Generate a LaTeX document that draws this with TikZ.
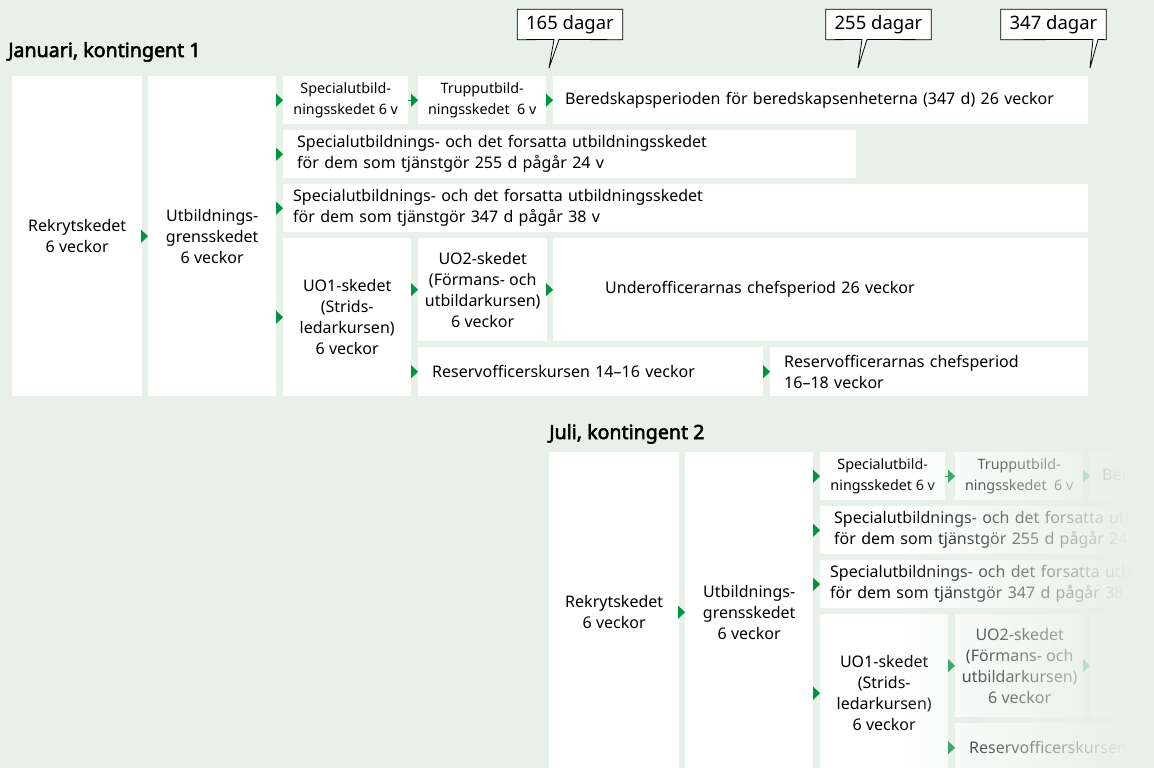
\documentclass[tikz,border=0pt]{standalone}
\usepackage{fontspec}
\setmainfont{Noto Sans}
\newfontfamily\titlefont{Noto Sans}[FakeBold=2.6]
\usetikzlibrary{arrows.meta,fadings}
\definecolor{bg}{HTML}{E7F1EA}
\definecolor{grn}{HTML}{00943F}
\tikzfading[name=fadeR, left color=transparent!100, right color=transparent!0]
\pgfdeclarelayer{bgl}
\pgfsetlayers{bgl,main}
\tikzset{
  box/.style={fill=white, draw=none, anchor=north west, inner sep=0pt,
    font=\fontsize{16}{21}\selectfont, align=center},
  sbox/.style={box, font=\fontsize{14.3}{21}\selectfont},
  lbox/.style={box, align=left},
  flow/.style={draw=grn, fill=grn, line width=0.1pt, -{Triangle[length=7pt,width=13pt]}},
  ctext/.style={font=\fontsize{18.5}{20}\selectfont, minimum width=105pt, minimum height=30pt, inner sep=0pt},
  cshape/.style={draw=black, fill=white, line width=0.8pt, line join=miter},
  title/.style={anchor=base west, inner sep=0pt, font=\titlefont\fontsize{19.6}{20}\selectfont}
}
\newcommand\kontdraw{%
  \node[box, minimum width=130pt, minimum height=320pt] (rek) at (12,76) {Rekrytskedet\\6 veckor};
  \node[box, minimum width=128pt, minimum height=320pt] (utb) at (148,76) {Utbildnings-\\grensskedet\\6 veckor};
  \node[sbox, minimum width=125pt, minimum height=48pt] (spec) at (283,76) {Specialutbild-\\ningsskedet 6 v};
  \node[sbox, minimum width=128pt, minimum height=48pt] (trupp) at (418,76) {Trupputbild-\\ningsskedet\ \ 6 v};
  \node[lbox, minimum width=535pt, minimum height=48pt, inner xsep=12pt, text width=511pt] (bered) at (553,76) {Beredskapsperioden för beredskapsenheterna (347 d) 26 veckor};
  \node[lbox, minimum width=573pt, minimum height=48pt, inner xsep=14pt, text width=545pt] (r255) at (283,130) {Specialutbildnings- och det forsatta utbildningsskedet\\för dem som tjänstgör 255 d pågår 24 v};
  \node[lbox, minimum width=805pt, minimum height=48pt, inner xsep=10pt, text width=785pt] (r347) at (283,184) {Specialutbildnings- och det forsatta utbildningsskedet\\för dem som tjänstgör 347 d pågår 38 v};
  \node[box, minimum width=128pt, minimum height=158pt] (uo1) at (283,238) {UO1-skedet\\(Strids-\\ledarkursen)\\6 veckor};
  \node[box, minimum width=129pt, minimum height=103pt] (uo2) at (418,238) {UO2-skedet\\(Förmans- och\\utbildarkursen)\\6 veckor};
  \node[lbox, minimum width=535pt, minimum height=103pt, inner xsep=52pt, text width=431pt] (uoc) at (553,238) {Underofficerarnas chefsperiod 26 veckor};
  \node[lbox, minimum width=345pt, minimum height=49pt, inner xsep=14pt, text width=317pt] (rok) at (418,347) {Reservofficerskursen 14–16 veckor};
  \node[lbox, minimum width=318pt, minimum height=49pt, inner xsep=14pt, text width=290pt] (roc) at (770,347) {Reservofficerarnas chefsperiod\\16–18 veckor};
  \draw[flow] (rek.east |- utb.west) -- (utb.west);
  \draw[flow] (utb.east |- spec.west) -- (spec.west);
  \draw[flow] (utb.east |- r255.west) -- (r255.west);
  \draw[flow] (utb.east |- r347.west) -- (r347.west);
  \draw[flow] (utb.east |- uo1.west) -- (uo1.west);
  \draw[flow] (spec.east |- trupp.west) -- (trupp.west);
  \draw[flow] (trupp.east |- bered.west) -- (bered.west);
  \draw[flow] (uo1.east |- uo2.west) -- (uo2.west);
  \draw[flow] (uo1.east |- rok.west) -- (rok.west);
  \draw[flow] (uo2.east |- uoc.west) -- (uoc.west);
  \draw[flow] (rok.east |- roc.west) -- (roc.west);
}
\begin{document}
\begin{tikzpicture}[x=1pt,y=-1pt]
\useasboundingbox (0,0) rectangle (1154,768);
\begin{pgfonlayer}{bgl}
\fill[bg] (0,0) rectangle (1154,768);
\end{pgfonlayer}
% titles
\node[title] (t1) at (8,57) {Januari, kontingent 1};
\node[title] (t2) at (549,439) {Juli, kontingent 2};
% top section
\kontdraw
% callouts
\node[ctext] (c165) at (570,24.5) {165 dagar};
\node[ctext] (c255) at (878.5,24.5) {255 dagar};
\node[ctext] (c347) at (1053.5,24.5) {347 dagar};
\coordinate (p165) at (549,68);
\coordinate (p255) at (858,68);
\coordinate (p347) at (1090,68);
\begin{pgfonlayer}{bgl}
\draw[cshape] (c165.north west) -- (c165.north east) -- (c165.south east) -- (559,39.5) -- (p165) -- (554,39.5) -- (c165.south west) -- cycle;
\draw[cshape] (c255.north west) -- (c255.north east) -- (c255.south east) -- (867,39.5) -- (p255) -- (862,39.5) -- (c255.south west) -- cycle;
\draw[cshape] (c347.north west) -- (c347.north east) -- (c347.south east) -- (1098,39.5) -- (p347) -- (1093,39.5) -- (c347.south west) -- cycle;
\end{pgfonlayer}
% bottom section (faded)
\begin{scope}
\clip (0,0) rectangle (1154,768);
\begin{scope}[shift={(537,376)}, name prefix=b-]
\kontdraw
\end{scope}
\fill[bg, path fading=fadeR] (890,440) rectangle (1130,768);
\fill[bg] (1129.5,440) rectangle (1154,768);
\end{scope}
\end{tikzpicture}
\end{document}
